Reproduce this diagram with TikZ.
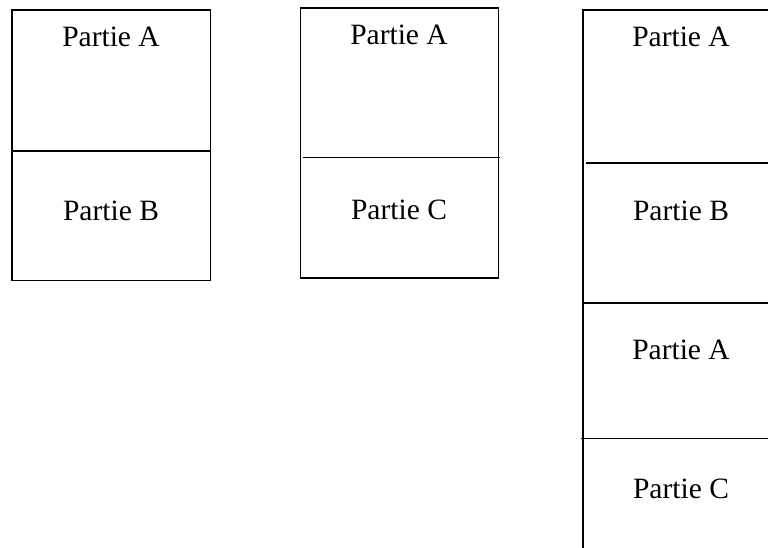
\documentclass[tikz,border=0pt]{standalone}
\usepackage{fontspec}
\setmainfont{Liberation Serif}
\begin{document}
\begin{tikzpicture}[x=1pt,y=-1pt,
  frame/.style={line width=1.6pt,black},
  label/.style={anchor=base,inner sep=0pt,font=\fontsize{29.5}{35}\selectfont}]
\useasboundingbox (0,0) rectangle (768,548);
% box 1
\draw[frame] (12,10) rectangle (210.5,280.5);
\draw[frame] (12,151) -- (210.5,151);
\node[label] (a1) at (111,47) {Partie A};
\node[label] (b1) at (111,220.5) {Partie B};
% box 2
\draw[frame] (300.5,8) rectangle (498.5,278);
\draw[frame] (303,157.7) -- (500,157.7);
\node[label] (a2) at (399,45) {Partie A};
\node[label] (c2) at (399,219) {Partie C};
% column 3
\draw[frame] (768,10) -- (582.7,10) -- (582.7,548);
\draw[frame] (586,163) -- (768,163);
\draw[frame] (582.7,302.7) -- (768,302.7);
\draw[frame] (580.7,438.3) -- (768,438.3);
\node[label] (a3) at (681,47) {Partie A};
\node[label] (b3) at (681,220.6) {Partie B};
\node[label] (a4) at (681,359) {Partie A};
\node[label] (c3) at (681,498) {Partie C};
\end{tikzpicture}
\end{document}
